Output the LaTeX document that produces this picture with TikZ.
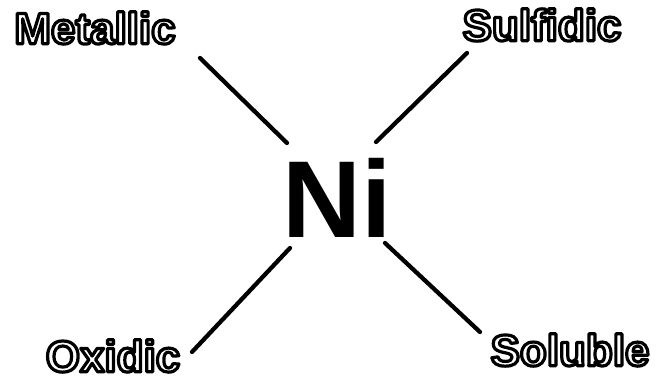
\documentclass[tikz,border=0pt]{standalone}
\usepackage{fontspec}
\setmainfont{Liberation Sans}
\newcommand\hollowtext[1]{\special{pdf:code q 0 0 0 RG 2 Tr 1 j 2.4 w}#1\special{pdf:code Q}}
\begin{document}
\begin{tikzpicture}[x=0.75pt,y=-0.75pt,
  lab/.style={inner sep=0pt,text=white,font=\bfseries\fontsize{33}{36}\selectfont},
  link/.style={line width=3.2pt,line cap=round,black}]
\useasboundingbox (0,0) rectangle (664,384);
\node[inner sep=0pt,font=\bfseries\fontsize{82}{90}\selectfont] (ni) at (337,198) {Ni};
\node[lab] (met) at (95,28) {\hollowtext{Metallic}};
\node[lab] (sul) at (542,25) {\hollowtext{Sulfidic}};
\node[lab] (oxi) at (113,356) {\hollowtext{Oxidic}};
\node[lab] (sol) at (570,350) {\hollowtext{Soluble}};
\coordinate (a1) at (200,58);  \coordinate (a2) at (287,143);
\coordinate (b1) at (467,53);  \coordinate (b2) at (376,142);
\coordinate (c1) at (192,352); \coordinate (c2) at (290,248);
\coordinate (d1) at (480,332); \coordinate (d2) at (385,243);
\draw[link] (a1) -- (a2);
\draw[link] (b1) -- (b2);
\draw[link] (c1) -- (c2);
\draw[link] (d1) -- (d2);
\end{tikzpicture}
\end{document}
